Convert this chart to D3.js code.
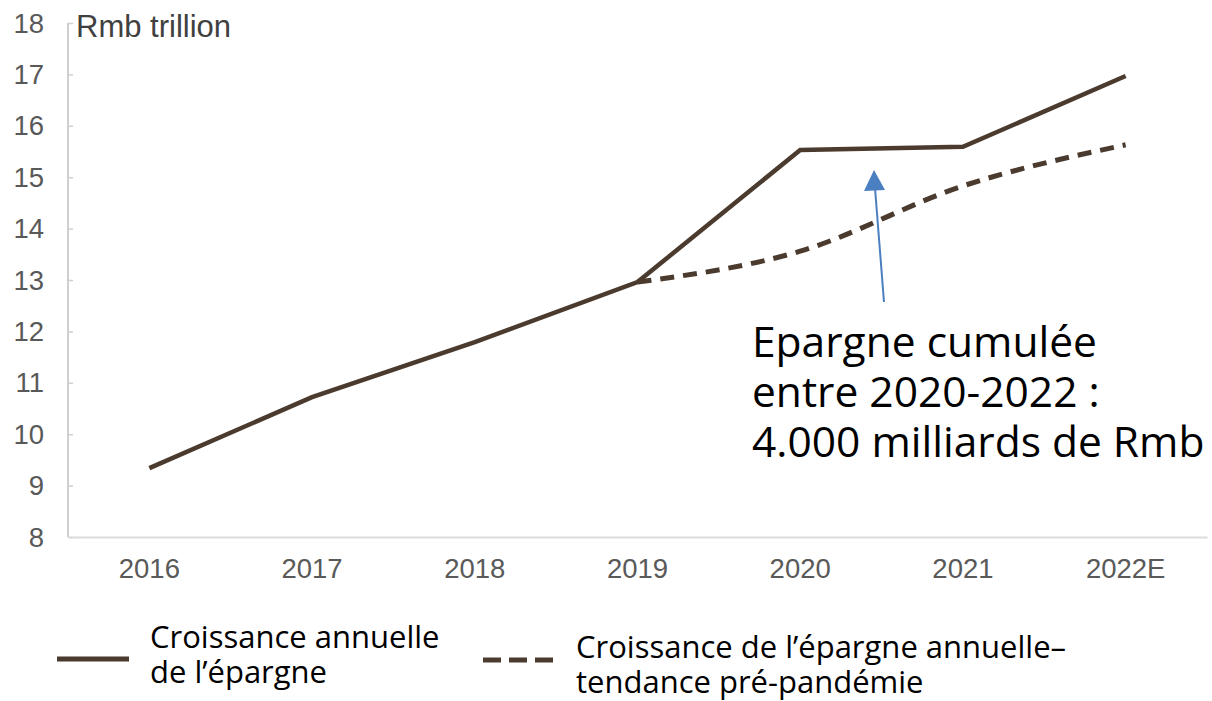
<!DOCTYPE html>
<html>
<head>
<meta charset="utf-8">
<script src="https://cdn.jsdelivr.net/npm/d3@7"></script>
<style>
  body { margin: 0; background: #fff; }
  svg { display: block; }
</style>
</head>
<body>
<div id="chart"></div>
<script>
// data
const years = ["2016", "2017", "2018", "2019", "2020", "2021", "2022E"];
const epargne = [9.34, 10.72, 11.79, 12.96, 15.53, 15.59, 16.97];
const tendanceYears = ["2019", "2020", "2021", "2022E"];
const tendance = [12.96, 13.56, 14.83, 15.63];
const yTicks = [8, 9, 10, 11, 12, 13, 14, 15, 16, 17, 18];

const width = 1212, height = 701;
const margin = {top: 23, right: 5, bottom: 164, left: 68};

const svg = d3.select("#chart").append("svg")
  .attr("width", width)
  .attr("height", height);

const x = d3.scaleBand().domain(years)
  .range([margin.left, width - margin.right]);
const y = d3.scaleLinear().domain([8, 18])
  .range([height - margin.bottom, margin.top]);

const lineColor = "#4b3b2f";
const tickFont = "Liberation Sans, Arial, sans-serif";

// axes
const yAxis = svg.append("g")
  .attr("transform", "translate(" + margin.left + ",0)")
  .call(d3.axisRight(y).tickValues(yTicks).tickSize(5).tickFormat(""));
yAxis.select(".domain").attr("stroke", "#cfcfcf").attr("stroke-width", 2)
  .attr("d", "M0," + y(18) + "V" + y(8));
yAxis.selectAll(".tick line").attr("stroke", "#cfcfcf").attr("stroke-width", 1.5);

svg.append("g").selectAll("text")
  .data(yTicks)
  .enter().append("text")
  .attr("x", 44)
  .attr("y", d => y(d))
  .attr("dy", "0.35em")
  .attr("text-anchor", "end")
  .attr("font-family", tickFont)
  .attr("font-size", 27.5)
  .attr("fill", "#595959")
  .text(d => d);

const xAxis = svg.append("g")
  .attr("transform", "translate(0," + y(8) + ")")
  .call(d3.axisBottom(x).tickSize(0).tickPadding(21));
xAxis.select(".domain").attr("stroke", "#dcdcdc").attr("stroke-width", 2);
xAxis.selectAll("text")
  .attr("font-family", tickFont)
  .attr("font-size", 27.5)
  .attr("fill", "#595959");

svg.append("text")
  .attr("x", 76)
  .attr("y", 37)
  .attr("font-family", tickFont)
  .attr("font-size", 31)
  .attr("fill", "#404040")
  .text("Rmb trillion");

// lines
const cx = d => x(d) + x.bandwidth() / 2;

const solidLine = d3.line()
  .x((d, i) => cx(years[i]))
  .y(d => y(d));

const dashLine = d3.line()
  .x((d, i) => cx(tendanceYears[i]))
  .y(d => y(d))
  .curve(d3.curveMonotoneX);

svg.append("path")
  .datum(tendance)
  .attr("fill", "none")
  .attr("stroke", lineColor)
  .attr("stroke-width", 5)
  .attr("stroke-dasharray", "14,9")
  .attr("d", dashLine);

svg.append("path")
  .datum(epargne)
  .attr("fill", "none")
  .attr("stroke", lineColor)
  .attr("stroke-width", 4.5)
  .attr("stroke-linejoin", "miter")
  .attr("d", solidLine);

// arrow
const arrowColor = "#4a7fc1";
svg.append("line")
  .attr("x1", 884).attr("y1", 302)
  .attr("x2", 875).attr("y2", 188)
  .attr("stroke", arrowColor)
  .attr("stroke-width", 2);
svg.append("path")
  .attr("d", "M874,170 L864,191 L885,190 Z")
  .attr("fill", arrowColor);

// annotation
const note = ["Epargne cumulée", "entre 2020-2022 :", "4.000 milliards de Rmb"];
svg.append("g").selectAll("text")
  .data(note)
  .enter().append("text")
  .attr("x", 752)
  .attr("y", (d, i) => 357 + i * 50)
  .attr("font-family", "Open Sans, sans-serif")
  .attr("font-size", 42.5)
  .attr("fill", "#000")
  .text(d => d);

// legend
const legendFont = "Open Sans, sans-serif";
svg.append("line")
  .attr("x1", 57).attr("x2", 129)
  .attr("y1", 659).attr("y2", 659)
  .attr("stroke", lineColor).attr("stroke-width", 5);
svg.append("g").selectAll("text")
  .data(["Croissance annuelle", "de l’épargne"])
  .enter().append("text")
  .attr("x", 150)
  .attr("y", (d, i) => 648 + i * 35)
  .attr("font-family", legendFont)
  .attr("font-size", 31)
  .attr("fill", "#000")
  .text(d => d);

svg.append("line")
  .attr("x1", 483).attr("x2", 553)
  .attr("y1", 660).attr("y2", 660)
  .attr("stroke", lineColor).attr("stroke-width", 5)
  .attr("stroke-dasharray", "18,8");
svg.append("g").selectAll("text")
  .data(["Croissance de l’épargne annuelle–", "tendance pré-pandémie"])
  .enter().append("text")
  .attr("x", 576)
  .attr("y", (d, i) => 658 + i * 35)
  .attr("font-family", legendFont)
  .attr("font-size", 31)
  .attr("fill", "#000")
  .text(d => d);
</script>
</body>
</html>
